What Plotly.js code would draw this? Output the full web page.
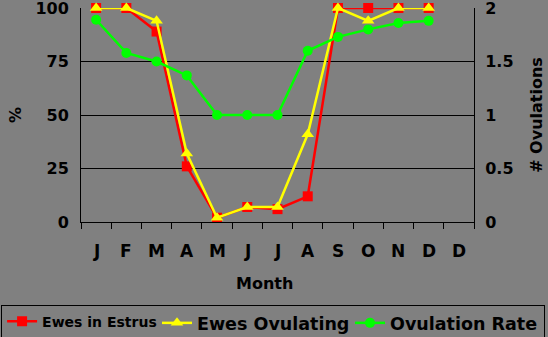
<!DOCTYPE html>
<html><head><meta charset="utf-8">
<script src="https://cdn.plot.ly/plotly-3.0.1.min.js"></script>
<style>html,body{margin:0;padding:0;background:#808080;}</style>
</head><body>
<div id="chart" style="width:548px;height:337px;"></div>
<script>
const monthLabels = ["J","F","M","A","M","J","J","A","S","O","N","D","D"];
const estrus = [100,100,89,26,2,7,6,12,100,100,100,100];
const ovulating = [100,100,94,32,2,7,7,41,100,94,100,100];
const ovulationRate = [1.89,1.58,1.5,1.37,1.0,1.0,1.0,1.6,1.73,1.8,1.86,1.88];
const seriesNames = ["Ewes in Estrus","Ewes Ovulating","Ovulation Rate"];

const xIdx = estrus.map((_, i) => i);
const tickIdx = monthLabels.map((_, i) => i);
const boundaries = [-0.5].concat(tickIdx.map(i => i + 0.5));
const F = "DejaVu Sans, Verdana, sans-serif";
const xr = [-0.5, monthLabels.length - 0.5];

const traces = [
  {x: xIdx, y: estrus, name: "<b>" + seriesNames[0] + "</b>", mode: "lines+markers", legend: "legend",
   line: {color: "#ff0000", width: 2.5}, marker: {symbol: "square", size: 10, color: "#ff0000"}, cliponaxis: false},
  {x: xIdx, y: ovulating, name: "<b>" + seriesNames[1] + "</b>", mode: "lines+markers", legend: "legend2",
   line: {color: "#ffff00", width: 2.5}, marker: {symbol: "triangle-up", size: 11, color: "#ffff00"}, cliponaxis: false},
  {x: xIdx, y: ovulationRate, name: "<b>" + seriesNames[2] + "</b>", mode: "lines+markers", yaxis: "y2", legend: "legend3",
   line: {color: "#00ff00", width: 2.5}, marker: {symbol: "circle", size: 10, color: "#00ff00"}, cliponaxis: false}
];

const annotations = monthLabels.map((m, i) => ({
  x: tickIdx[i], xref: "x", y: -0.135, yref: "paper", yanchor: "middle", xanchor: "center",
  text: "<b>" + m + "</b>", showarrow: false, font: {family: F, size: 17, color: "#000"}
}));
annotations.push({
  x: 0.4657, xref: "paper", y: -0.287, yref: "paper", yanchor: "middle", xanchor: "center",
  text: "<b>Month</b>", showarrow: false, font: {family: F, size: 16, color: "#000"}
});

const layout = {
  width: 548, height: 337,
  paper_bgcolor: "#808080", plot_bgcolor: "#808080",
  margin: {l: 81, r: 74, t: 8, b: 115},
  font: {family: F, size: 16, color: "#000"},
  showlegend: true,
  annotations: annotations,
  xaxis: {
    range: xr, tickmode: "array", tickvals: boundaries, ticktext: boundaries.map(() => ""),
    ticks: "outside", ticklen: 6, tickcolor: "#000", tickwidth: 1,
    showgrid: false, zeroline: false, showline: true, linecolor: "#000", linewidth: 1, automargin: false
  },
  yaxis: {
    range: [0, 100], tickmode: "array", tickvals: [0,25,50,75,100], ticktext: ["<b>0</b>","<b>25</b>","<b>50</b>","<b>75</b>","<b>100</b>"],
    showgrid: true, gridcolor: "#000", gridwidth: 1, zeroline: false, showline: true, linecolor: "#000",
    ticks: "", ticklabelstandoff: 8, ticklabeloverflow: "allow", automargin: false, tickfont: {family: F, size: 16, color: "#000"},
    title: {text: "<b>%</b>", font: {family: F, size: 16, color: "#000"}, standoff: 9}
  },
  yaxis2: {
    range: [0, 2], overlaying: "y", side: "right", tickmode: "array", tickvals: [0,0.5,1,1.5,2],
    ticktext: ["<b>0</b>","<b>0.5</b>","<b>1</b>","<b>1.5</b>","<b>2</b>"],
    showgrid: false, zeroline: false, showline: true, linecolor: "#000", ticks: "", ticklabelstandoff: 7,
    ticklabeloverflow: "allow", automargin: false,
    tickfont: {family: F, size: 16, color: "#000"},
    title: {text: "<b># Ovulations</b>", font: {family: F, size: 16, color: "#000"}, standoff: 18}
  },
  legend: {
    orientation: "h", xref: "container", yref: "container", x: 0.002, xanchor: "left", y: 0.096, yanchor: "top",
    bgcolor: "#808080", bordercolor: "#000", borderwidth: 1, entrywidth: 497, entrywidthmode: "pixels",
    font: {family: F, size: 14, color: "#000"}, itemwidth: 30
  },
  legend2: {
    orientation: "h", xref: "container", yref: "container", x: 0.2865, xanchor: "left", y: 0.095, yanchor: "top",
    bgcolor: "rgba(0,0,0,0)", borderwidth: 0,
    font: {family: F, size: 17.5, color: "#000"}, itemwidth: 30
  },
  legend3: {
    orientation: "h", xref: "container", yref: "container", x: 0.6387, xanchor: "left", y: 0.095, yanchor: "top",
    bgcolor: "rgba(0,0,0,0)", borderwidth: 0,
    font: {family: F, size: 17.5, color: "#000"}, itemwidth: 30
  }
};

Plotly.newPlot("chart", traces, layout, {displayModeBar: false, staticPlot: true});
</script>
</body></html>
